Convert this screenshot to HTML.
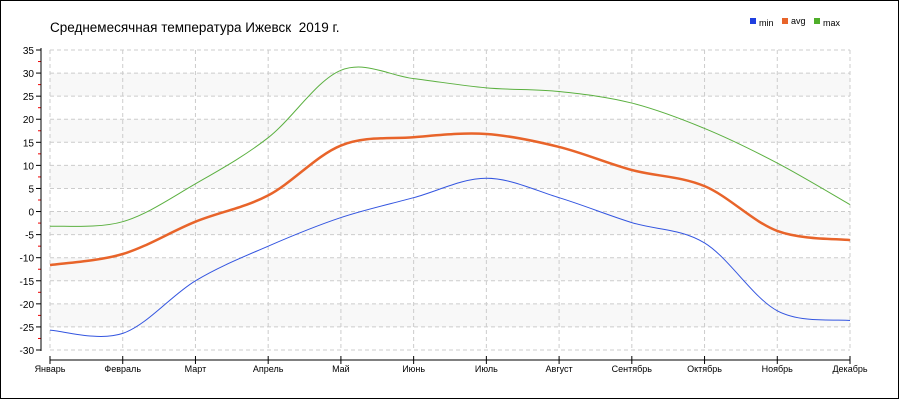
<!DOCTYPE html>
<html><head><meta charset="utf-8"><style>
body{margin:0;background:#fff}
svg{display:block;font-family:"Liberation Sans","DejaVu Sans",sans-serif}
</style></head><body>
<svg id="s" width="900" height="400" xmlns="http://www.w3.org/2000/svg">
<rect x="0.5" y="0.5" width="898" height="398" fill="#fff" stroke="#000"/>
<text x="50" y="32" font-size="13.5" fill="#000">Среднемесячная температура Ижевск&#160; 2019 г.</text>
<rect x="750" y="18" width="6" height="6" fill="#1f3fe0"/><text x="759" y="26" font-size="9">min</text>
<rect x="782" y="18" width="6" height="6" fill="#e8642a"/><text x="791" y="24" font-size="9">avg</text>
<rect x="814" y="18" width="6" height="6" fill="#4fae2a"/><text x="823" y="26" font-size="9">max</text>
<g id="g"></g>
</svg>
<script>
var g=document.getElementById('g'),h='';
function Y(v){return 50+(35-v)*300/65}
function X(i){return 50+i*800/11}
[[25,30],[15,20],[5,10],[-5,0],[-15,-10],[-25,-20]].forEach(function(b){h+='<rect x="50" y="'+Y(b[1])+'" width="800" height="'+(Y(b[0])-Y(b[1]))+'" fill="#f8f8f8"/>'});
for(var v=-30;v<=35;v+=5){h+='<line x1="50" x2="850" y1="'+Y(v)+'" y2="'+Y(v)+'" stroke="#ccc" stroke-dasharray="4,3"/>';
h+='<line x1="36" x2="41" y1="'+Y(v)+'" y2="'+Y(v)+'" stroke="#000"/><text x="34" y="'+(Y(v)+4)+'" font-size="10" text-anchor="end">'+v+'</text>';
if(v<35)h+='<line x1="38" x2="41" y1="'+Y(v+2.5)+'" y2="'+Y(v+2.5)+'" stroke="#e00"/>';}
var m=['Январь','Февраль','Март','Апрель','Май','Июнь','Июль','Август','Сентябрь','Октябрь','Ноябрь','Декабрь'];
for(var i=0;i<12;i++){h+='<line x1="'+X(i)+'" x2="'+X(i)+'" y1="50" y2="350" stroke="#ccc" stroke-dasharray="4,3"/>';
h+='<line x1="'+X(i)+'" x2="'+X(i)+'" y1="356" y2="364" stroke="#000"/><text x="'+X(i)+'" y="372" font-size="9" text-anchor="middle">'+m[i]+'</text>';}
h+='<line x1="41" x2="41" y1="48" y2="351" stroke="#000"/><line x1="50" x2="850" y1="360" y2="360" stroke="#000"/>';
function path(d,c,w){var p=d.map(function(v,i){return[X(i),Y(v)]});var s='M'+p[0];
for(var i=0;i<p.length-1;i++){var p0=p[i-1]||p[i],p1=p[i],p2=p[i+1],p3=p[i+2]||p2;
s+='C'+(p1[0]+(p2[0]-p0[0])/6)+','+(p1[1]+(p2[1]-p0[1])/6)+' '+(p2[0]-(p3[0]-p1[0])/6)+','+(p2[1]-(p3[1]-p1[1])/6)+' '+p2;}
return '<path d="'+s+'" fill="none" stroke="'+c+'" stroke-width="'+w+'"/>';}
h+=path([-25.7,-26.4,-15,-7.5,-1.3,3,7.2,3,-2.4,-6.8,-21.5,-23.6],'#3355e0',1);
h+=path([-3.2,-2.2,6,16,30.6,28.8,26.8,26,23.5,18,10.5,1.5],'#5bb040',1);
h+=path([-11.6,-9.2,-2.2,3.5,14.3,16.1,16.8,14,9,5.5,-4.2,-6.2],'#e8642a',2.5);
g.innerHTML=h;
</script>
</body></html>
